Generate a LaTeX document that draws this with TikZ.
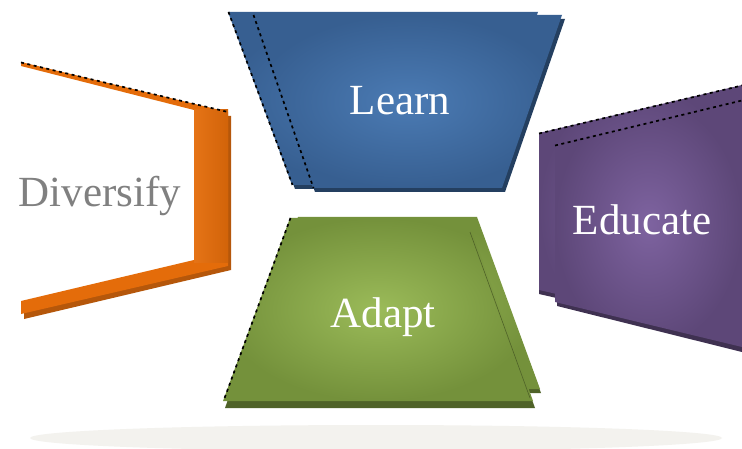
\documentclass[tikz,border=0pt]{standalone}
\usepackage{fontspec}
\setmainfont{Liberation Serif}
\definecolor{orangeA}{HTML}{E46C0A}
\definecolor{orangeS}{HTML}{B5570B}
\definecolor{blueIn}{HTML}{4B7BB4}
\definecolor{blueOut}{HTML}{375F91}
\definecolor{blueS}{HTML}{243F60}
\definecolor{greenIn}{HTML}{9BBB59}
\definecolor{greenOut}{HTML}{74913B}
\definecolor{greenS}{HTML}{4F6228}
\definecolor{purpIn}{HTML}{7E63A0}
\definecolor{purpOut}{HTML}{5D4778}
\definecolor{purpS}{HTML}{3F3151}
\definecolor{floorC}{HTML}{F3F2EE}
\tikzset{
  lbl/.style={anchor=base, inner sep=0pt, font=\fontsize{43}{50}\selectfont, text=white},
  jag/.style={draw=black, line width=1.7pt, dash pattern=on 3pt off 3.5pt},
  blueface/.style={inner color=blueIn, outer color=blueOut},
  greenface/.style={inner color=greenIn, outer color=greenOut},
  purpface/.style={inner color=purpIn, outer color=purpOut},
}
\begin{document}
\begin{tikzpicture}[x=1pt,y=-1pt]
\useasboundingbox (0,0) rectangle (742,449);
\fill[white] (0,0) rectangle (742,449);
% floor shadow
\fill[floorC] (376,438) ellipse [x radius=346, y radius=13];

% Diversify (orange bracket)
\fill[orangeS] (197,114) -- (231,116) -- (231,270) -- (24,319) -- (24,305) -- (197,264) -- cycle;
\fill[orangeA] (21,62) -- (228,112) -- (228,266) -- (21,314) -- (21,301) -- (194,260) -- (194,110) -- (21,66) -- cycle;
\shade[left color=orangeA!95!white, right color=orangeA!92!black] (194,110) rectangle (228,263);
\draw[jag] (21,62.5) -- (228,112);
\node[lbl, text=gray] (div) at (100,207) {Diversify};

% Learn (blue)
\fill[blueS] (231,16) -- (541,16) -- (481,189) -- (295,189) -- cycle;
\shade[blueface] (228,12) -- (538,12) -- (478,185) -- (292,185) -- cycle;
\fill[blueS] (256,19) -- (565,19) -- (505,192) -- (315,192) -- cycle;
\shade[blueface] (253,15) -- (562,15) -- (502,188) -- (313,188) -- cycle;
\draw[jag] (228.5,12) -- (292.5,185);
\draw[jag] (253.5,15) -- (313.5,188);
\node[lbl] (learn) at (400,115) {Learn};

% Educate (purple)
\fill[purpS] (539,137) -- (742,89) -- (742,340) -- (539,294) -- cycle;
\shade[purpface] (539,133) -- (742,85) -- (742,336) -- (539,290) -- cycle;
\fill[purpS] (557,149) -- (742,104) -- (742,352) -- (557,306) -- cycle;
\shade[purpface] (555,145) -- (742,100) -- (742,347) -- (555,302) -- cycle;
\draw[jag] (539,133.5) -- (742,85.5);
\draw[jag] (555,145.5) -- (742,100.5);
\node[lbl] (edu) at (642,235) {Educate};

% Adapt (green)
\fill[greenS] (298,220) -- (477,220) -- (541,393) -- (240,393) -- cycle;
\shade[greenface] (298,217) -- (477,217) -- (540,389) -- (240,389) -- cycle;
\fill[greenS] (291,224) -- (468,224) -- (535,408) -- (225,408) -- cycle;
\shade[greenface] (290,218) -- (467,218) -- (533,401) -- (223,401) -- cycle;
\draw[greenS, line width=0.6pt] (470,232) -- (530,398);
\draw[jag] (290.5,218) -- (223.5,401);
\node[lbl] (adapt) at (383,327) {Adapt};
\end{tikzpicture}
\end{document}
